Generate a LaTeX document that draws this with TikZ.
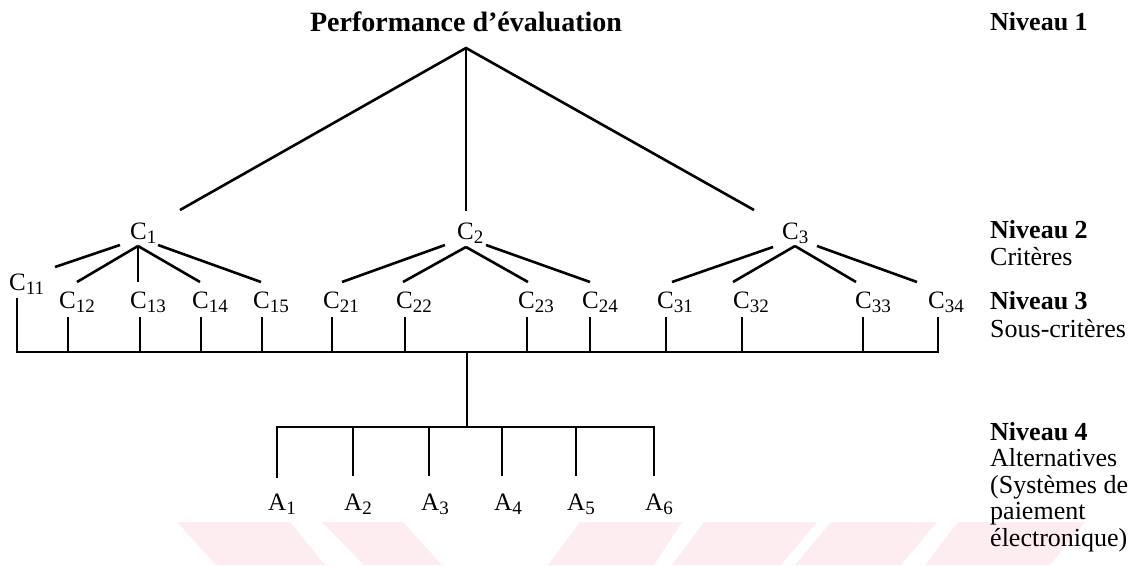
\documentclass[tikz,border=0pt]{standalone}
\usepackage{fontspec}
\setmainfont{Liberation Serif}
\definecolor{wm}{RGB}{253,236,240}
\newcommand{\sbx}[1]{\raisebox{-4pt}{\fontsize{19}{19}\selectfont #1}}
\begin{document}
\begin{tikzpicture}[x=1pt,y=-1pt,
  link/.style={line width=2.6pt},
  lbl/.style={inner sep=0pt, anchor=base west, font=\fontsize{25}{27}\selectfont},
  rlab/.style={inner sep=0pt, anchor=base west, font=\fontsize{26}{27}\selectfont},
  rbold/.style={inner sep=0pt, anchor=base west, font=\fontsize{26}{27}\selectfont\bfseries},
  ttl/.style={inner sep=0pt, anchor=base, font=\fontsize{28}{30}\selectfont\bfseries}]
\useasboundingbox (0,0) rectangle (1134,565);
% watermark bands
\begin{scope}
\clip (0,0) rectangle (1134,565);
\fill[wm] (177,522) -- (290,522) -- (325,565) -- (216,565) -- cycle;
\fill[wm] (322,522) -- (403,522) -- (442,565) -- (364,565) -- cycle;
\fill[wm] (580,522) -- (682,522) -- (654,565) -- (548,565) -- cycle;
\fill[wm] (704,522) -- (817,522) -- (781,565) -- (672,565) -- cycle;
\fill[wm] (831,522) -- (937,522) -- (901,565) -- (795,565) -- cycle;
\fill[wm] (958,522) -- (1085,522) -- (1050,565) -- (925,565) -- cycle;
\end{scope}
% title and apex
\node[ttl] (T) at (466,31) {Performance d’évaluation};
\coordinate (apex) at (466,48);
\coordinate (e1) at (180,210);
\coordinate (e2) at (466,211);
\coordinate (e3) at (754,210);
\draw[link] (e1) -- (apex) -- (e3);
\draw[link] (apex) -- (e2);
% level 2
\node[lbl] (C1) at (130,239) {C\sbx{1}};
\node[lbl] (C2) at (457,239) {C\sbx{2}};
\node[lbl] (C3) at (782,239) {C\sbx{3}};
% level 3 labels
\node[lbl] (C11) at (9,290) {C\sbx{11}};
\node[lbl] (C12) at (59,308) {C\sbx{12}};
\node[lbl] (C13) at (130,308) {C\sbx{13}};
\node[lbl] (C14) at (192,308) {C\sbx{14}};
\node[lbl] (C15) at (253,308) {C\sbx{15}};
\node[lbl] (C21) at (323,308) {C\sbx{21}};
\node[lbl] (C22) at (396,308) {C\sbx{22}};
\node[lbl] (C23) at (518,308) {C\sbx{23}};
\node[lbl] (C24) at (582,308) {C\sbx{24}};
\node[lbl] (C31) at (657,308) {C\sbx{31}};
\node[lbl] (C32) at (733,308) {C\sbx{32}};
\node[lbl] (C33) at (855,308) {C\sbx{33}};
\node[lbl] (C34) at (928,308) {C\sbx{34}};
% fans from level 2
\coordinate (j1) at (138,246);
\coordinate (j1a) at (120,245); \coordinate (f11) at (55,267);
\coordinate (f12) at (77,282); \coordinate (f13) at (138,282); \coordinate (f14) at (200,282);
\coordinate (j1b) at (158,245); \coordinate (f15) at (261,282);
\draw[link] (j1a) -- (f11);
\draw[link] (j1) -- (f12);
\draw[link] (j1) -- (f13);
\draw[link] (j1) -- (f14);
\draw[link] (j1b) -- (f15);
\coordinate (j2) at (466,247);
\coordinate (j2a) at (445,245); \coordinate (f21) at (342,282);
\coordinate (f22) at (403,282); \coordinate (f23) at (528,282);
\coordinate (j2b) at (486,245); \coordinate (f24) at (590,282);
\draw[link] (j2a) -- (f21);
\draw[link] (j2) -- (f22);
\draw[link] (j2) -- (f23);
\draw[link] (j2b) -- (f24);
\coordinate (j3) at (795,246);
\coordinate (j3a) at (773,247); \coordinate (f31) at (672,282);
\coordinate (f32) at (733,282); \coordinate (f33) at (856,282);
\coordinate (j3b) at (817,246); \coordinate (f34) at (917,282);
\draw[link] (j3a) -- (f31);
\draw[link] (j3) -- (f32);
\draw[link] (j3) -- (f33);
\draw[link] (j3b) -- (f34);
% level 3 verticals and bus
\coordinate (t11) at (17,298);
\coordinate (b11) at (17,352);
\coordinate (b34) at (938,352);
\coordinate (t34) at (938,317);
\draw[link] (t11) -- (b11) -- (b34) -- (t34);
\foreach \x in {68,140,201,262,332,405,527,590,666,742,863}
  \draw[link] (\x,317) -- (\x,352);
% drop to alternatives
\coordinate (d1) at (467,352);
\coordinate (d2) at (467,427);
\draw[link] (d1) -- (d2);
\coordinate (a1t) at (277,478);
\coordinate (a1b) at (277,427);
\coordinate (a6b) at (654,427);
\coordinate (a6t) at (654,476);
\draw[link] (a1t) -- (a1b) -- (a6b) -- (a6t);
\foreach \x in {353,429,502,576}
  \draw[link] (\x,427) -- (\x,476);
\node[lbl] (A1) at (268,510) {A\sbx{1}};
\node[lbl] (A2) at (344,510) {A\sbx{2}};
\node[lbl] (A3) at (421,510) {A\sbx{3}};
\node[lbl] (A4) at (494,510) {A\sbx{4}};
\node[lbl] (A5) at (567,510) {A\sbx{5}};
\node[lbl] (A6) at (645,510) {A\sbx{6}};
% right column
\node[rbold] (N1) at (990,30) {Niveau 1};
\node[rbold] (N2) at (990,238) {Niveau 2};
\node[rlab] (N2b) at (990,265) {Critères};
\node[rbold] (N3) at (990,309) {Niveau 3};
\node[rlab] (N3b) at (990,337) {Sous-critères};
\node[rbold] (N4) at (990,440) {Niveau 4};
\node[rlab] (N4b) at (990,466) {Alternatives};
\node[rlab] (N4c) at (990,493) {(Systèmes de};
\node[rlab] (N4d) at (990,519) {paiement};
\node[rlab] (N4e) at (990,546) {électronique)};
\end{tikzpicture}
\end{document}
